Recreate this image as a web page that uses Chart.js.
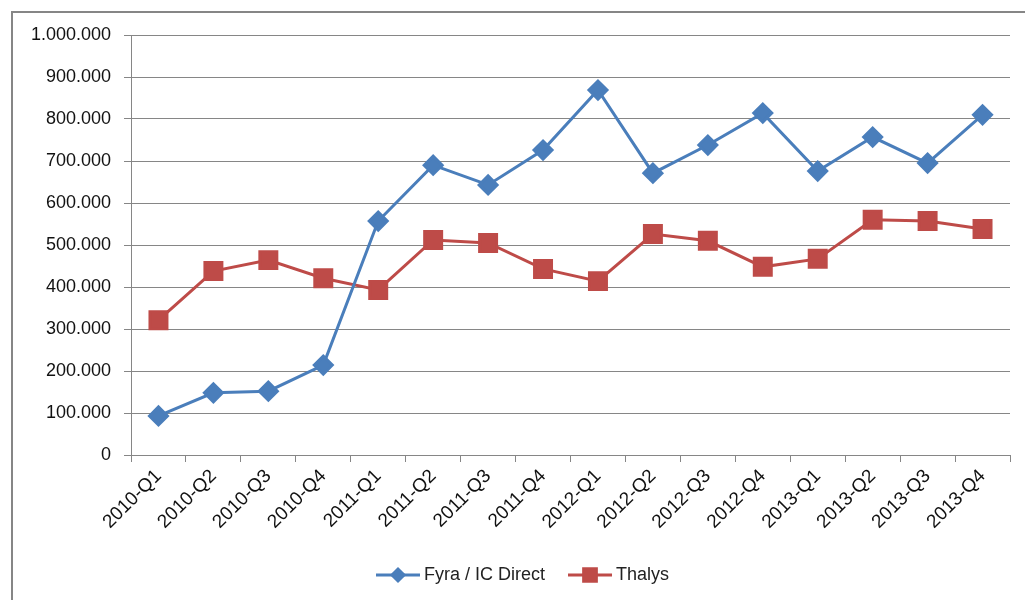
<!DOCTYPE html>
<html lang="nl">
<head>
    <meta charset="UTF-8" />
    <title>Fyra / Thalys</title>
    <script src="https://cdn.jsdelivr.net/npm/chart.js"></script>
    <style>
        body {
            margin: 0;
            background: #fff;
            overflow: hidden;
        }

        #frame {
            position: absolute;
            left: 11px;
            top: 11px;
            width: 1100px;
            height: 700px;
            border: 2px solid #868686;
        }

        #wrap {
            position: absolute;
            left: 0;
            top: 0;
            width: 1025px;
            height: 600px;
        }
    </style>
</head>
<body>
    <div id="frame"></div>
    <div id="wrap"><canvas id="chart"></canvas></div>

    <script>
        const quarters = ['2010-Q1', '2010-Q2', '2010-Q3', '2010-Q4',
            '2011-Q1', '2011-Q2', '2011-Q3', '2011-Q4',
            '2012-Q1', '2012-Q2', '2012-Q3', '2012-Q4',
            '2013-Q1', '2013-Q2', '2013-Q3', '2013-Q4'];
        const fyra = [93000, 148000, 152000, 214000, 557000, 690000, 643000, 726000,
            869000, 671000, 738000, 814000, 676000, 757000, 695000, 810000];
        const thalys = [321000, 438000, 464000, 421000, 393000, 512000, 505000, 443000,
            414000, 526000, 510000, 448000, 467000, 560000, 557000, 538000];

        const blue = '#4A7EBB';
        const red = '#BE4B48';
        const gridCol = '#868686';
        const font = 'Arial, "Liberation Sans", sans-serif';

        function dotted(v) {
            return String(v).replace(/\B(?=(\d{3})+(?!\d))/g, '.');
        }

        // Excel-style legend: short line with the marker in the middle
        const lineLegend = {
            id: 'lineLegend',
            afterDraw(chart) {
                const ctx = chart.ctx;
                const y = 575;
                let x = 376;
                ctx.save();
                ctx.font = '18px ' + font;
                ctx.textBaseline = 'middle';
                chart.data.datasets.forEach(ds => {
                    ctx.strokeStyle = ds.borderColor;
                    ctx.lineWidth = 3;
                    ctx.beginPath();
                    ctx.moveTo(x, y);
                    ctx.lineTo(x + 44, y);
                    ctx.stroke();
                    Chart.helpers.drawPoint(ctx, {
                        pointStyle: ds.pointStyle,
                        radius: ds.pointStyle === 'rect' ? 9 : 6,
                        borderWidth: 1
                    }, x + 22, y);
                    ctx.fillStyle = ds.borderColor;
                    ctx.fill();
                    ctx.fillStyle = '#222';
                    ctx.fillText(ds.label, x + 48, y);
                    x += 48 + ctx.measureText(ds.label).width + 23;
                });
                ctx.restore();
            }
        };

        new Chart(document.getElementById('chart'), {
            type: 'line',
            data: {
                labels: quarters,
                datasets: [{
                    label: 'Fyra / IC Direct',
                    data: fyra,
                    borderColor: blue,
                    backgroundColor: blue,
                    borderWidth: 3,
                    pointStyle: 'rectRot',
                    pointRadius: 9,
                    pointHoverRadius: 9,
                    tension: 0
                }, {
                    label: 'Thalys',
                    data: thalys,
                    borderColor: red,
                    backgroundColor: red,
                    borderWidth: 3,
                    pointStyle: 'rect',
                    pointRadius: 12,
                    pointHoverRadius: 12,
                    tension: 0
                }]
            },
            options: {
                responsive: true,
                maintainAspectRatio: false,
                animation: false,
                layout: { padding: { left: 0, top: 35, right: 13, bottom: 0 } },
                plugins: {
                    legend: { display: false },
                    tooltip: { enabled: false }
                },
                scales: {
                    x: {
                        offset: true,
                        grid: {
                            offset: true,
                            drawOnChartArea: false,
                            drawTicks: true,
                            tickLength: 7,
                            color: gridCol
                        },
                        border: { color: gridCol, width: 1 },
                        ticks: {
                            minRotation: 45,
                            maxRotation: 45,
                            autoSkip: false,
                            color: '#111',
                            padding: 3,
                            font: { family: font, size: 19 }
                        },
                        afterFit(scale) { scale.height = 145; }
                    },
                    y: {
                        min: 0,
                        max: 1000000,
                        grid: { color: gridCol, tickLength: 7 },
                        border: { color: gridCol, width: 1 },
                        ticks: {
                            stepSize: 100000,
                            color: '#111',
                            padding: 13,
                            font: { family: font, size: 18 },
                            callback: v => dotted(v)
                        },
                        afterFit(scale) { scale.width = 131; }
                    }
                }
            },
            plugins: [lineLegend]
        });
    </script>
</body>
</html>
